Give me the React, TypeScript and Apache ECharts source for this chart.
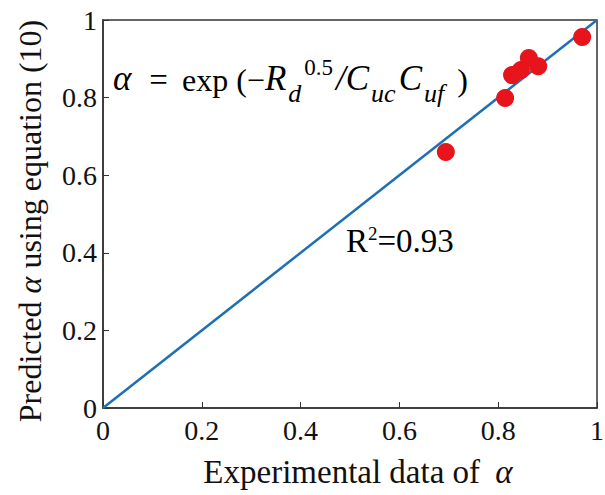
import React, { useEffect, useRef } from "react";
import * as echarts from "echarts";

const experimental = [0.694, 0.814, 0.828, 0.846, 0.862, 0.881, 0.970];
const predicted = [0.660, 0.799, 0.858, 0.871, 0.902, 0.881, 0.956];
const fitLine = [[0, 0], [1, 1]];

const FONT = "Liberation Serif";
const INK = "#111";

export default function App() {
  const ref = useRef<HTMLDivElement>(null);
  useEffect(() => {
    const chart = echarts.init(ref.current!, null, { renderer: "svg" });
    const label = (margin: number) => ({
      show: true,
      fontFamily: FONT, fontSize: 28, color: INK, margin,
    });
    chart.setOption({
      animation: false,
      backgroundColor: "#fff",
      textStyle: { fontFamily: FONT },
      grid: { left: 103, top: 20, right: 8, bottom: 87, outerBoundsMode: "none", containLabel: false, show: true, borderColor: "#333", borderWidth: 1.5, backgroundColor: "transparent" },
      xAxis: {
        type: "value", min: 0, max: 1, interval: 0.2,
        name: "Experimental data of {i|α}",
        nameLocation: "middle", nameGap: 47,
        nameTextStyle: { fontFamily: FONT, fontSize: 33, color: INK, padding: [0, 0, 0, 16], rich: { i: { fontFamily: FONT, fontStyle: "italic", fontSize: 33, color: INK, padding: [0, 0, 0, 7] } } },
        axisLine: { lineStyle: { color: "#333", width: 1.5 } },
        axisTick: { inside: true, length: 6, lineStyle: { color: "#333" } },
        axisLabel: label(8),
        splitLine: { show: false },
      },
      yAxis: {
        type: "value", min: 0, max: 1, interval: 0.2,
        axisLine: { lineStyle: { color: "#333", width: 1.5 } },
        axisTick: { inside: true, length: 6, lineStyle: { color: "#333" } },
        axisLabel: label(6),
        splitLine: { show: false },
      },
      series: [
        {
          type: "line", data: fitLine, showSymbol: false, symbol: "none",
          lineStyle: { color: "#1f6fb5", width: 2.5 }, z: 2,
        },
        {
          type: "scatter", data: experimental.map((x, i) => [x, predicted[i]]),
          symbolSize: 18, itemStyle: { color: "#e8141c", opacity: 1 }, z: 3,
        },
      ],
      graphic: [
        {
          type: "text", x: 30, y: 221, rotation: Math.PI / 2,
          style: {
            text: "Predicted {i|α} using equation (10)",
            fontFamily: FONT, fontSize: 32, fill: INK,
            align: "center", verticalAlign: "middle",
            rich: { i: { fontFamily: FONT, fontStyle: "italic", fontSize: 32, fill: INK } },
          },
        },
        {
          type: "text", left: 113, top: 56,
          style: {
            text: "{a|α}{e|=}{n|exp (−}{a|R}{s|d}{p|0.5}{a|/C}{s|uc}{a|C}{s|uf}{c|)}",
            rich: {
              a: { fontFamily: FONT, fontStyle: "italic", fontSize: 35, color: INK, verticalAlign: "bottom", padding: [0, 2, 0, 0] },
              e: { fontFamily: FONT, fontSize: 33, color: INK, verticalAlign: "bottom", padding: [0, 14, 0, 16] },
              n: { fontFamily: FONT, fontSize: 32, color: INK, verticalAlign: "bottom" },
              c: { fontFamily: FONT, fontSize: 32, color: INK, verticalAlign: "bottom", padding: [0, 0, 0, 10] },
              s: { fontFamily: FONT, fontStyle: "italic", fontSize: 26, color: INK, padding: [0, 3, -10, 0], verticalAlign: "bottom" },
              p: { fontFamily: FONT, fontSize: 23, color: INK, padding: [0, 3, 17, 0], verticalAlign: "bottom" },
            },
          },
        },
        {
          type: "text", left: 346, top: 224,
          style: {
            text: "{n|R}{p|2}{n|=0.93}",
            rich: {
              n: { fontFamily: FONT, fontSize: 33, color: INK, verticalAlign: "bottom" },
              p: { fontFamily: FONT, fontSize: 19, color: INK, padding: [0, 0, 14, 0], verticalAlign: "bottom" },
            },
          },
        },
      ],
    });
    return () => chart.dispose();
  }, []);
  return <div ref={ref} style={{ width: 605, height: 495, position: "absolute", left: 0, top: 0 }} />;
}
